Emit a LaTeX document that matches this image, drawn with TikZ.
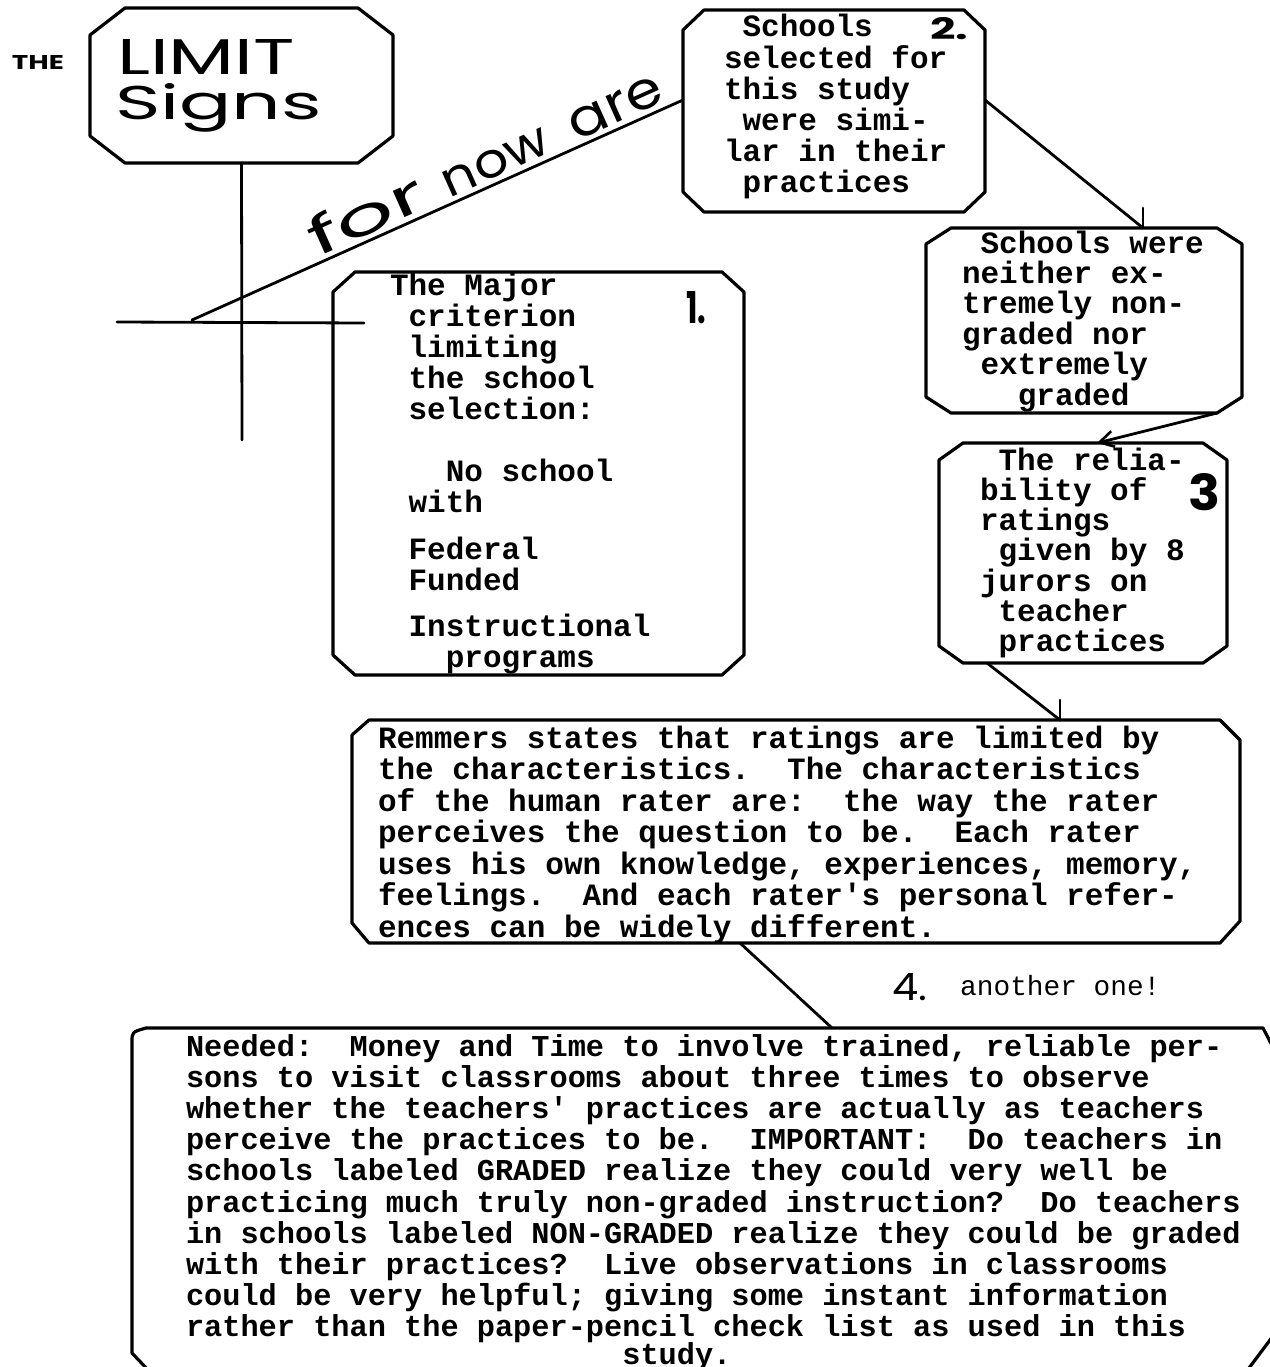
\documentclass[tikz,border=0pt]{standalone}
\usepackage{fontspec}
\usepackage{graphicx}
\usetikzlibrary{arrows.meta,calc}
\newfontfamily\tw{Liberation Mono}
\newfontfamily\hand{Poppins}
\newcommand\ind[1]{\hspace*{\dimexpr0.6em*#1\relax}}
\newcommand\octo[3]{%
  \draw[outline] ([xshift=#2]#1.north west) -- ([xshift=-#2]#1.north east)
    -- ([yshift=-#3]#1.north east) -- ([yshift=#3]#1.south east)
    -- ([xshift=-#2]#1.south east) -- ([xshift=#2]#1.south west)
    -- ([yshift=#3]#1.south west) -- ([yshift=-#3]#1.north west) -- cycle;}
\tikzset{
  frame/.style={draw=none, rectangle, inner sep=0pt, outer sep=0pt},
  outline/.style={line width=3.2pt, line join=round, line cap=round},
  conn/.style={line width=2.8pt, line cap=round},
  txt/.style={inner sep=0pt, outer sep=0pt, anchor=base west,
    font=\tw\bfseries\fontsize{31}{#1}\selectfont\frenchspacing},
  hw/.style={inner sep=0pt, outer sep=0pt, anchor=base west, font=\hand},
  onrule/.style={sloped, anchor=south, inner sep=0pt, yshift=4pt, font=\hand},
}
\begin{document}
\begin{tikzpicture}[x=1pt,y=-1pt]
\useasboundingbox (0,0) rectangle (1269,1367);
% ---------- boxes ----------
\node[frame, minimum width=303pt, minimum height=155pt] (b0) at (241.5,85.5) {};
\node[frame, minimum width=411pt, minimum height=403pt] (b1) at (538.5,473.5) {};
\node[frame, minimum width=302pt, minimum height=202pt] (b2) at (834,111) {};
\node[frame, minimum width=316pt, minimum height=185pt] (b2n) at (1084,320.5) {};
\node[frame, minimum width=288pt, minimum height=220pt] (b3) at (1083,553) {};
\node[frame, minimum width=888pt, minimum height=223pt] (b4) at (796,831.5) {};
\node[frame, minimum width=1144pt, minimum height=344pt] (b5) at (704,1200) {};
\octo{b0}{35pt}{27pt}
\octo{b1}{22pt}{20pt}
\octo{b2}{21pt}{20pt}
\octo{b2n}{25pt}{16pt}
\octo{b3}{24pt}{17pt}
\draw[outline] ([xshift=17pt]b4.north west) -- ([xshift=-20pt]b4.north east)
  -- ([yshift=-20pt]b4.north east) -- ([yshift=22pt]b4.south east)
  -- ([xshift=-20pt]b4.south east) -- ([xshift=17pt]b4.south west)
  -- ([yshift=20pt]b4.south west) -- ([yshift=-15pt]b4.north west) -- cycle;
\draw[outline] ([yshift=19pt]b5.south west) -- ([yshift=-14pt]b5.north west)
  .. controls ([yshift=-4pt]b5.north west) .. ([xshift=14pt]b5.north west)
  -- ([xshift=-13pt]b5.north east) -- ([yshift=-25pt]b5.north east)
  -- ([yshift=40pt]b5.south east) -- ([xshift=-30pt]b5.south east)
  -- ([xshift=18pt]b5.south west) -- cycle;
% ---------- sign post ----------
\coordinate (postbot) at (242,440);
\coordinate (cbl) at (117,322);
\coordinate (cbr) at (364,323);
\coordinate (dstart) at (192,320);
\draw[conn] (b0.south) -- (postbot);
\draw[conn] (cbl) -- (cbr);
\draw[conn] (dstart)
  -- node[onrule, pos=0.375] (w1) {\resizebox{124pt}{40pt}{for}}
     node[onrule, pos=0.635] (w2) {\resizebox{113pt}{27pt}{now}}
     node[onrule, pos=0.88] (w3) {\resizebox{98pt}{29pt}{are}}
  ([yshift=11pt]b2.west);
% ---------- connectors ----------
\coordinate (tk1) at (1143,208);
\coordinate (tk2) at (1060,700);
\draw[conn] ([yshift=11pt]b2.east) -- ([xshift=59pt]b2n.north);
\draw[conn] (tk1) -- ([xshift=59pt]b2n.north);
\draw[conn, -{Straight Barb[length=14pt,width=16pt,line width=2.6pt]}]
  ([xshift=133pt]b2n.south) -- ([xshift=14pt]b3.north);
\draw[conn] ([xshift=-96pt]b3.south) -- ([xshift=264pt]b4.north);
\draw[conn] (tk2) -- ([xshift=264pt]b4.north);
\draw[conn] ([xshift=-56pt]b4.south) -- ([xshift=128pt]b5.north);
% ---------- handwritten labels ----------
\node[hw] (the) at (12,70) {\resizebox{52pt}{14pt}{\bfseries THE}};
\node[hw] (lim) at (117,75) {\resizebox{178pt}{35pt}{LIMIT}};
\node[hw] (sig) at (115,120) {\resizebox{207pt}{36pt}{Signs}};
\node[hw] (n1) at (686,323) {\resizebox{20pt}{32pt}{\bfseries 1.}};
\node[hw] (n2) at (930,40) {\resizebox{38pt}{22pt}{\bfseries 2.}};
\node[hw] (n3) at (1188,510) {\resizebox{32pt}{37pt}{\bfseries 3}};
\node[hw] (n4) at (892,1000) {\resizebox{35pt}{27pt}{4.}};
\node[inner sep=0pt, anchor=base west, font=\tw\fontsize{27.8}{28}\selectfont] (ao) at (960,995) {another one!};
% ---------- box texts ----------
\node[txt=31.2] (t2) at (724,37) {\parbox[t]{226pt}{\raggedright
\ind{1}Schools\\selected for\\this study\\\ind{1}were simi-\\lar in their\\\ind{1}practices}};
\node[txt=30.4] (t2n) at (962,253) {\parbox[t]{245pt}{\raggedright
\ind{1}Schools were\\neither ex-\\tremely non-\\graded nor\\\ind{1}extremely\\\ind{3}graded}};
\node[txt=30.3] (t3) at (980,470) {\parbox[t]{207pt}{\raggedright
\ind{1}The relia-\\bility of\\ratings\\\ind{1}given by 8\\jurors on\\\ind{1}teacher\\\ind{1}practices}};
\node[txt=31] (t1) at (390,295) {\parbox[t]{264pt}{\raggedright
The Major\\\ind{1}criterion\\\ind{1}limiting\\\ind{1}the school\\\ind{1}selection:\\[31pt]%
\ind{3}No school\\\ind{1}with\\[16pt]\ind{1}Federal\\\ind{1}Funded\\[15pt]%
\ind{1}Instructional\\\ind{3}programs}};
\node[txt=31.5] (t4) at (378,748) {\parbox[t]{822pt}{\raggedright
Remmers states that ratings are limited by\\
the characteristics.~ The characteristics\\
of the human rater are:~ the way the rater\\
perceives the question to be.~ Each rater\\
uses his own knowledge, experiences, memory,\\
feelings.~ And each rater\textquotesingle s personal refer-\\
ences can be widely different.}};
\node[txt=31.2, font=\tw\bfseries\fontsize{30.3}{31.2}\selectfont\frenchspacing] (t5) at (186,1056) {\parbox[t]{1058pt}{\raggedright
Needed:~ Money and Time to involve trained, reliable per-\\
sons to visit classrooms about three times to observe\\
whether the teachers\textquotesingle{} practices are actually as teachers\\
perceive the practices to be.~ IMPORTANT:~ Do teachers in\\
schools labeled GRADED realize they could very well be\\
practicing much truly non-graded instruction?~ Do teachers\\
in schools labeled NON-GRADED realize they could be graded\\
with their practices?~ Live observations in classrooms\\
could be very helpful; giving some instant information\\
rather than the paper-pencil check list as used in this\\[-4pt]
\ind{24}study.}};
\end{tikzpicture}
\end{document}
